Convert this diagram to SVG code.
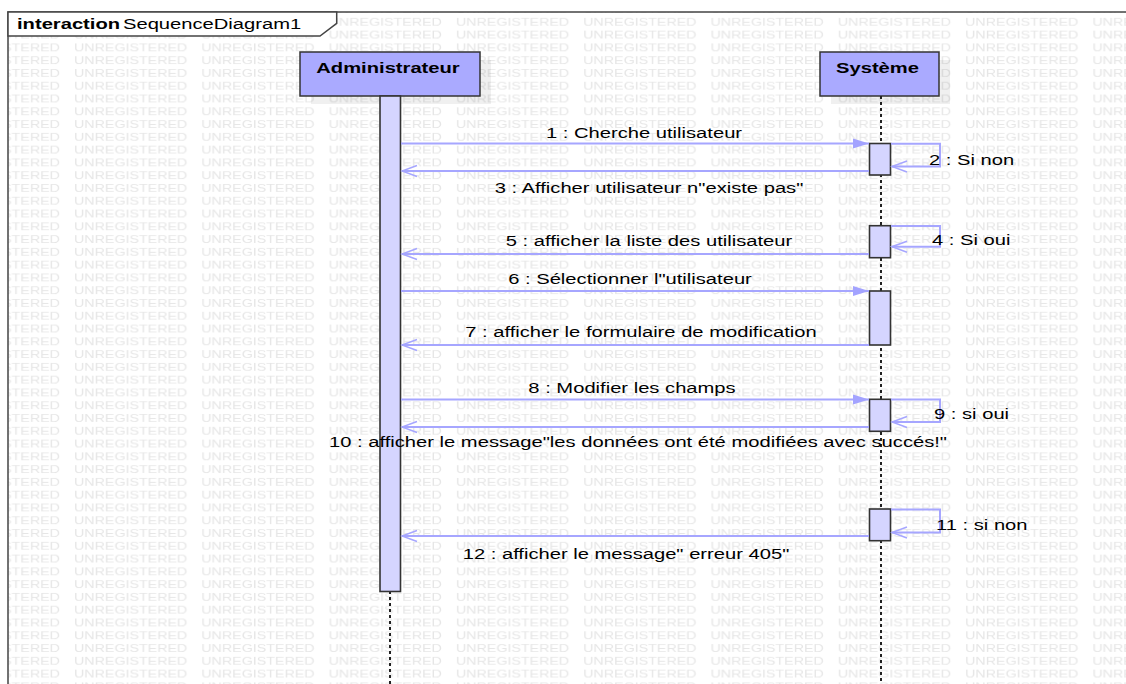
<svg xmlns="http://www.w3.org/2000/svg" width="1126" height="684" viewBox="0 0 1126 684">
<style>
text{font-family:"Liberation Sans",Arial,sans-serif;font-size:15px;fill:#000}
.wm{font-size:10.5px;fill:#e6e6e6}
.b{font-weight:bold}
.head{fill:#aaaaff;stroke:#333;stroke-width:1.5}
.shadow{fill:#000;fill-opacity:0.06}
.act{fill:#d5d5ff;stroke:#333;stroke-width:1.6}
.life{stroke:#222;stroke-width:2;stroke-dasharray:3,3;fill:none}
.msg{stroke:#a6a6ff;stroke-width:2;fill:none}
.call{marker-end:url(#filled)}
.ret{marker-end:url(#open)}
</style>
<defs>
<pattern id="wmp" patternUnits="userSpaceOnUse" x="74" y="15.9" width="127.3" height="12.78">
<text class="wm" x="0" y="10.2" transform="scale(1.36,1)">UNREGISTERED</text>
</pattern>
<marker id="filled" markerUnits="userSpaceOnUse" markerWidth="18" markerHeight="12" refX="16" refY="6" orient="auto">
<path d="M0,1 L16,6 L0,11 z" fill="#a3a3ff"/>
</marker>
<marker id="open" markerUnits="userSpaceOnUse" markerWidth="18" markerHeight="14" refX="16" refY="7" orient="auto">
<path d="M1,1.5 L16,7 L1,12.5" fill="none" stroke="#a6a6ff" stroke-width="1.6"/>
</marker>
</defs>
<rect width="1126" height="684" fill="#fff"/>
<rect x="8" y="12" width="1118" height="672" fill="url(#wmp)"/>
<g id="frame">
<rect x="8" y="12" width="1140" height="700" fill="none" stroke="#444" stroke-width="1.5"/>
<polygon points="8,12 336.7,12 336.7,23.3 320,36 8,36" fill="#fff" stroke="#444" stroke-width="1.5"/>
<text transform="translate(17,29) scale(1.345,1)"><tspan class="b">interaction</tspan><tspan x="78.8">SequenceDiagram1</tspan></text>
</g>
<g id="lifeline-admin">
<rect class="shadow" x="311" y="60" width="180" height="44"/>
<rect class="head" x="300" y="52" width="180" height="44"/>
<text class="b" text-anchor="middle" transform="translate(388,73) scale(1.345,1)">Administrateur</text>
<line class="life" x1="390" y1="591" x2="390" y2="684"/>
<rect class="act" x="380" y="96" width="20.5" height="495.5"/>
</g>
<g id="lifeline-systeme">
<rect class="shadow" x="831" y="60" width="119" height="44"/>
<rect class="head" x="820" y="52" width="119" height="44"/>
<text class="b" text-anchor="middle" transform="translate(877.5,72.5) scale(1.345,1)">Système</text>
<line class="life" x1="881" y1="96" x2="881" y2="684"/>
<rect class="act" x="869.5" y="143.5" width="21" height="31.5"/>
<rect class="act" x="869.5" y="225.7" width="21" height="32"/>
<rect class="act" x="869.5" y="291" width="21" height="54"/>
<rect class="act" x="869.5" y="399.3" width="21" height="32"/>
<rect class="act" x="869.5" y="509" width="21" height="31.7"/>
</g>
<g id="connectors">
<line class="msg call" x1="401" y1="143.5" x2="869" y2="143.5"/>
<path class="msg ret" d="M891,143.7 H940 V166.5 H892"/>
<line class="msg ret" x1="869" y1="171" x2="402" y2="171"/>
<path class="msg ret" d="M891,226 H940 V246.7 H892"/>
<line class="msg ret" x1="869" y1="254" x2="402" y2="254"/>
<line class="msg call" x1="401" y1="291" x2="869" y2="291"/>
<line class="msg ret" x1="869" y1="345" x2="402" y2="345"/>
<line class="msg call" x1="401" y1="399.5" x2="869" y2="399.5"/>
<path class="msg ret" d="M891,399.5 H940 V422 H892"/>
<line class="msg ret" x1="869" y1="427" x2="402" y2="427"/>
<path class="msg ret" d="M891,509.5 H940 V532.5 H892"/>
<line class="msg ret" x1="869" y1="536" x2="402" y2="536"/>
</g>
<g id="labels">
<text text-anchor="middle" transform="translate(644,137.5) scale(1.345,1)">1 : Cherche utilisateur</text>
<text transform="translate(929,164.5) scale(1.345,1)">2 : Si non</text>
<text text-anchor="middle" transform="translate(649,192.5) scale(1.345,1)">3 : Afficher utilisateur n"existe pas"</text>
<text transform="translate(932,244.5) scale(1.345,1)">4 : Si oui</text>
<text text-anchor="middle" transform="translate(649,245.5) scale(1.345,1)">5 : afficher la liste des utilisateur</text>
<text text-anchor="middle" transform="translate(630,283.5) scale(1.345,1)">6 : Sélectionner l"utilisateur</text>
<text text-anchor="middle" transform="translate(641,337) scale(1.345,1)">7 : afficher le formulaire de modification</text>
<text text-anchor="middle" transform="translate(632,392.5) scale(1.345,1)">8 : Modifier les champs</text>
<text transform="translate(934,419) scale(1.345,1)">9 : si oui</text>
<text text-anchor="middle" transform="translate(638,446.5) scale(1.345,1)">10 : afficher le message"les données ont été modifiées avec succés!"</text>
<text transform="translate(936,530) scale(1.345,1)">11 : si non</text>
<text text-anchor="middle" transform="translate(626,558.5) scale(1.345,1)">12 : afficher le message" erreur 405"</text>
</g>
</svg>
